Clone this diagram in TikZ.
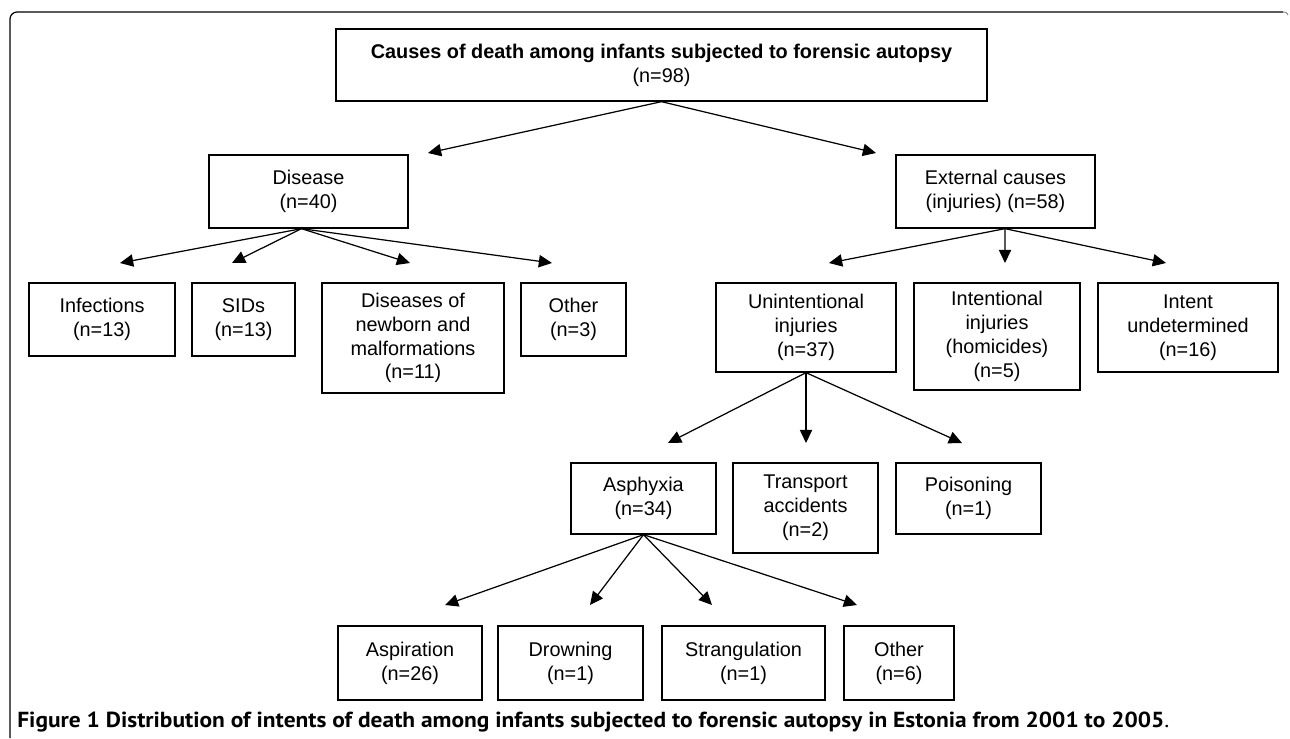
\documentclass[tikz,border=0pt]{standalone}
\usepackage{fontspec}
\setmainfont{Liberation Sans}
\newfontfamily\capfont{PT Sans}
\usetikzlibrary{arrows.meta}

\begin{document}
\begin{tikzpicture}[x=0.02cm,y=-0.02cm,
  box/.style={draw,line width=0.75pt,align=center,inner sep=0pt,font=\fontsize{11.3}{13.6}\selectfont},
  arr/.style={line width=0.7pt,-{Triangle[length=7.5pt,width=7pt]}}]
  \useasboundingbox (0,0) rectangle (1290,738);
  \draw[line width=0.7pt,rounded corners=4pt] (1283,12) -- (10,12) -- (10,738);
  \draw[gray,line width=0.5pt] (1283,12) .. controls (1286,12) .. (1288,15);
  % level 0 and 1
  \node[box,minimum width=13.02cm,minimum height=1.44cm] (root) at (661.5,65) {\textbf{Causes of death among infants subjected to forensic autopsy}\\(n=98)};
  \node[box,minimum width=3.98cm,minimum height=1.46cm] (dis) at (308.5,191.5) {Disease\\(n=40)};
  \node[box,minimum width=3.98cm,minimum height=1.46cm] (ext) at (995.5,191.5) {External causes\\(injuries) (n=58)};
  % level 2
  \node[box,minimum width=2.92cm,minimum height=1.46cm] (infect) at (102,319.5) {Infections\\(n=13)};
  \node[box,minimum width=2.06cm,minimum height=1.46cm] (sids) at (243.5,319.5) {SIDs\\(n=13)};
  \node[box,minimum width=3.64cm,minimum height=2.2cm] (newborn) at (413,338) {Diseases of\\newborn and\\malformations\\(n=11)};
  \node[box,minimum width=2.10cm,minimum height=1.46cm] (otherdis) at (573.5,319.5) {Other\\(n=3)};
  \node[box,minimum width=3.6cm,minimum height=1.78cm] (unint) at (806,327.5) {Unintentional\\injuries\\(n=37)};
  \node[box,minimum width=3.32cm,minimum height=2.14cm] (intent) at (997,336.5) {Intentional\\injuries\\(homicides)\\(n=5)};
  \node[box,minimum width=3.6cm,minimum height=1.78cm] (undet) at (1188,327.5) {Intent\\undetermined\\(n=16)};
  % level 3
  \node[box,minimum width=2.9cm,minimum height=1.42cm] (asph) at (643.5,498.5) {Asphyxia\\(n=34)};
  \node[box,minimum width=2.9cm,minimum height=1.8cm] (transp) at (805.5,508) {Transport\\accidents\\(n=2)};
  \node[box,minimum width=2.9cm,minimum height=1.42cm] (poison) at (968.5,498.5) {Poisoning\\(n=1)};
  % level 4
  \node[box,minimum width=2.88cm,minimum height=1.48cm] (aspir) at (410,663) {Aspiration\\(n=26)};
  \node[box,minimum width=2.9cm,minimum height=1.48cm] (drown) at (570.5,663) {Drowning\\(n=1)};
  \node[box,minimum width=3.26cm,minimum height=1.48cm] (strang) at (743.5,663) {Strangulation\\(n=1)};
  \node[box,minimum width=2.2cm,minimum height=1.48cm] (otherasph) at (899,663) {Other\\(n=6)};
  % arrow ends
  \coordinate (to-dis) at (428,153);
  \coordinate (to-ext) at (876,153);
  \coordinate (to-infect) at (120,263);
  \coordinate (to-sids) at (232,263);
  \coordinate (to-newborn) at (410,263);
  \coordinate (to-otherdis) at (552,263);
  \coordinate (to-unint) at (829,263);
  \coordinate (to-intent) at (1005,263);
  \coordinate (to-undet) at (1166,263);
  \coordinate (to-asph) at (668,443);
  \coordinate (to-transp) at (806,443);
  \coordinate (to-poison) at (962,443);
  \coordinate (to-aspir) at (445,605);
  \coordinate (to-drown) at (590,605);
  \coordinate (to-strang) at (712,605);
  \coordinate (to-otherasph) at (857,605);
  \foreach \t in {dis,ext} \draw[arr] (root.south) -- (to-\t);
  \foreach \t in {infect,sids,newborn,otherdis} \draw[arr] ([xshift=-0.14cm]dis.south) -- (to-\t);
  \foreach \t in {unint,intent,undet} \draw[arr] ([xshift=0.19cm]ext.south) -- (to-\t);
  \foreach \t in {asph,transp,poison} \draw[arr] (unint.south) -- (to-\t);
  \foreach \t in {aspir,drown,strang,otherasph} \draw[arr] (asph.south) -- (to-\t);
  % caption
  \node[anchor=base west,inner sep=0pt,font=\capfont\fontsize{12.4}{14}\selectfont] (caption) at (17,727) {\scalebox{1.075}[1]{\bfseries Figure 1 Distribution of intents of death among infants subjected to forensic autopsy in Estonia from 2001 to 2005\mdseries.}};
\end{tikzpicture}
\end{document}
